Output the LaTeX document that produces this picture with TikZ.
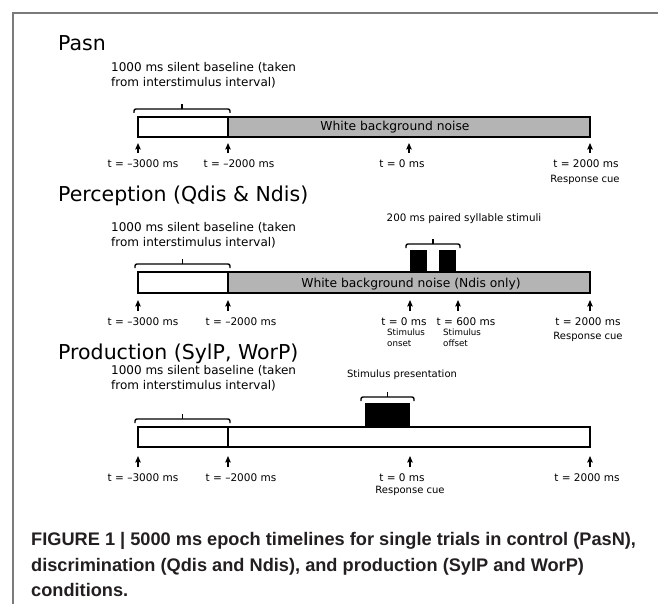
\documentclass[tikz,border=0pt]{standalone}
\usepackage{fontspec}
\newfontfamily\diafont{DejaVu Sans}
\newfontfamily\capfont{Liberation Sans}
\usetikzlibrary{arrows.meta}
\definecolor{noisegray}{HTML}{B4B4B4}
\definecolor{framegray}{HTML}{7A7A7A}
\definecolor{capblack}{HTML}{231F20}

\begin{document}
\begin{tikzpicture}[x=1pt, y=-1pt,
    every node/.append style={font=\diafont, inner sep=0pt},
    bar/.style={line width=1.8pt},
    brace/.style={line width=1.4pt, rounded corners=2pt},
    tick/.style={line width=1.2pt, -{Stealth[length=6.5pt, width=5.5pt, inset=1pt]}}]
  \tikzstyle{heading} = [anchor=base west, font=\diafont\fontsize{20.5}{24}\selectfont]
  \tikzstyle{baseline} = [anchor=base west, align=left, font=\diafont\fontsize{12}{15}\selectfont]
  \tikzstyle{inbar} = [anchor=base, font=\diafont\fontsize{12.3}{14}\selectfont]
  \tikzstyle{tlabel} = [anchor=base, font=\diafont\fontsize{10.5}{12}\selectfont]
  \tikzstyle{cue} = [anchor=base, font=\diafont\fontsize{10}{12}\selectfont]
  \tikzstyle{small} = [anchor=base west, align=left, font=\diafont\fontsize{8.7}{10.5}\selectfont]
  \tikzstyle{caption} = [anchor=base west, text=capblack, font=\capfont\bfseries\fontsize{18.2}{22}\selectfont]
  \useasboundingbox (0,0) rectangle (658,604);
  \draw[framegray, line width=1.5pt] (13,604) |- (658,13);

  \node (pasn) [heading] at (58,50.5) {Pasn};
  \node (base1) [baseline] at (111,86.3) {1000 ms silent baseline (taken\\from interstimulus interval)};
  \draw[bar, fill=noisegray] (228,117) rectangle (590,137);
  \draw[bar] (138,117) rectangle (228,137);
  \node (noise1) [inbar] at (395,130.4) {White background noise};
  \foreach \x [count=\i] in {138,228,409,590} {
    \coordinate (tail1\i) at (\x,153);
    \coordinate (tip1\i) at (\x,143);
    \draw[tick] (tail1\i) -- (tip1\i);
  }
  \foreach \x/\t [count=\i] in {143/{t = –3000 ms}, 239/{t = –2000 ms}, 402/{t = 0 ms}, 586/{t = 2000 ms}}
    \node (lab1\i) [tlabel] at (\x,167.8) {\t};
  \node (resp1) [cue] at (585,182.6) {Response cue};

  \node (perception) [heading] at (58,201.5) {Perception (Qdis \& Ndis)};
  \node (base2) [baseline] at (111,246) {1000 ms silent baseline (taken\\from interstimulus interval)};
  \node (pair) [tlabel, font=\diafont\fontsize{10.3}{12}\selectfont] at (464,221.7) {200 ms paired syllable stimuli};
  \fill (410,250) rectangle (427,272);
  \fill (439,250) rectangle (456,272);
  \draw[bar, fill=noisegray] (228,272) rectangle (590,293);
  \draw[bar] (138,272) rectangle (228,293);
  \node (noise2) [inbar] at (411,287.4) {White background noise (Ndis only)};
  \foreach \x [count=\i] in {138,228,410,458,590} {
    \coordinate (tail2\i) at (\x,311);
    \coordinate (tip2\i) at (\x,300);
    \draw[tick] (tail2\i) -- (tip2\i);
  }
  \foreach \x/\t [count=\i] in {143/{t = –3000 ms}, 241/{t = –2000 ms}, 404/{t = 0 ms}, 466/{t = 600 ms}, 588/{t = 2000 ms}}
    \node (lab2\i) [tlabel] at (\x,325.8) {\t};
  \node (onset) [small] at (387,346) {Stimulus\\onset};
  \node (offset) [small] at (443,346) {Stimulus\\offset};
  \node (resp2) [cue] at (588,339.6) {Response cue};

  \node (production) [heading] at (58,359.5) {Production (SylP, WorP)};
  \node (base3) [baseline] at (111,389.3) {1000 ms silent baseline (taken\\from interstimulus interval)};
  \node (present) [tlabel, font=\diafont\fontsize{10}{12}\selectfont] at (402,377.6) {Stimulus presentation};
  \fill (365,403) rectangle (410,427);
  \draw[bar] (138,427) rectangle (590,447);
  \draw[bar] (228,427) -- (228,447);
  \foreach \x [count=\i] in {138,228,410,590} {
    \coordinate (tail3\i) at (\x,467);
    \coordinate (tip3\i) at (\x,456);
    \draw[tick] (tail3\i) -- (tip3\i);
  }
  \foreach \x/\t [count=\i] in {143/{t = –3000 ms}, 241/{t = –2000 ms}, 402/{t = 0 ms}, 587/{t = 2000 ms}}
    \node (lab3\i) [tlabel] at (\x,481.8) {\t};
  \node (resp3) [cue] at (410,493.6) {Response cue};

  \foreach \a/\b/\y in {134/230/109, 135/230/264, 135/230/419, 406/460/244, 361/414/397} {
    \draw[brace] (\a,\y+4) -- (\a,\y) -- (\b,\y) -- (\b,\y+4);
    \draw[brace] ({(\a+\b)/2},\y) -- ({(\a+\b)/2},\y-5);
  }

  \node (cap1) [caption] at (31,545.5) {FIGURE 1 | 5000 ms epoch timelines for single trials in control (PasN),};
  \node (cap2) [caption] at (31,571) {discrimination (Qdis and Ndis), and production (SylP and WorP)};
  \node (cap3) [caption] at (31,596.5) {conditions.};
\end{tikzpicture}
\end{document}
